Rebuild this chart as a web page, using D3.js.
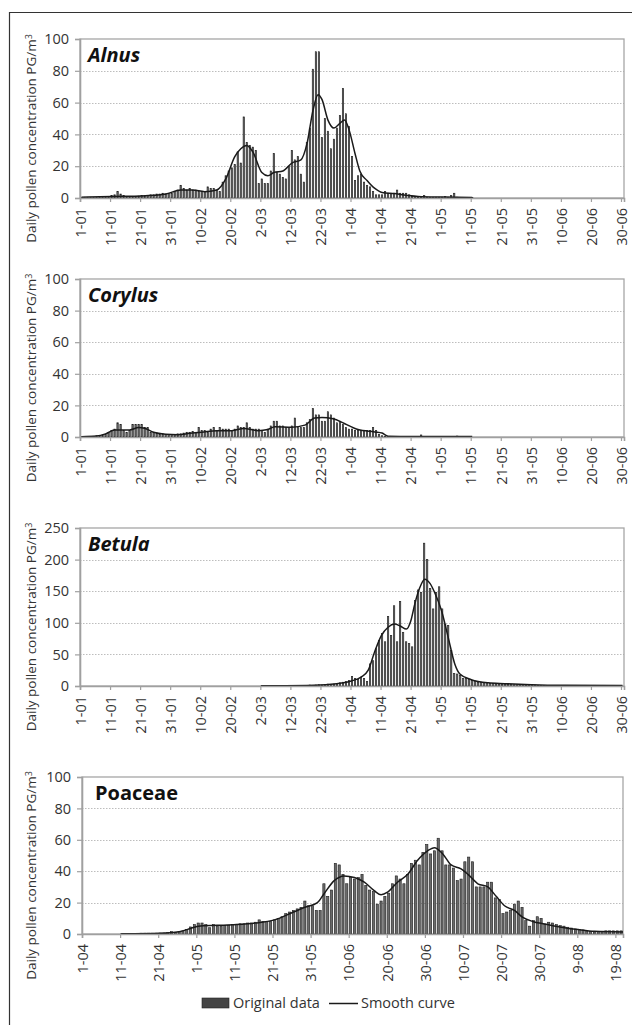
<!DOCTYPE html>
<html>
<head>
<meta charset="utf-8">
<script src="https://cdn.jsdelivr.net/npm/d3@7"></script>
<style>
  body { margin: 0; background: #fff; }
  svg { display: block; font-family: "Open Sans", sans-serif; }
</style>
</head>
<body>
<div id="chart"></div>
<script>
// tick labels (one every 10 days)
var janJunTicks = ["1-01","11-01","21-01","31-01","10-02","20-02","2-03","12-03","22-03","1-04",
  "11-04","21-04","1-05","11-05","21-05","31-05","10-06","20-06","30-06"];
var aprAugTicks = ["1-04","11-04","21-04","1-05","11-05","21-05","31-05","10-06","20-06","30-06",
  "10-07","20-07","30-07","9-08","19-08"];

// daily values, first value is day alnusStart (day 0 = 1-01)
var alnusStart = 0;
var alnusValues = [0.5,0.5,0.5,0.5,0.3,0.5,0.5,0.8,0.5,0.8, 1.5,2,4,2.5,1.5,1,1,1,1,1.2,
  1.5,1.2,1.5,2,2,2.5,2.5,3,2.5,3, 3,4,5,
  8,6,5,6,5,5,4,4,4,7,6,6,5,4,
  10,14,17,19,21,29,22,51,35,33,32,30,
  9,12,9,9,17,28,16,15,13,12,20,30,24,26,15,10,35,44,
  81,92,92,38,50,42,31,37,44,52,69,53,45,
  26,11,14,15,10,8,7,4,2,2,2,4,3,3,3,5,3,3,3,2,1,
  1,0.5,0.5,1.5,0.5,0.5,0.5,0.5,0.5,0.5,1,0.5,1.5,3,0.5,0.3,0.3,0.3,0.3,0.3];
var alnusCurve = [[0,0.5],[10,1],[20,1.3],[28,2.5],[33,5],[37,5],[41,4],[45,5],[48,12],[51,26],
  [53,31],[55,33],[57,29],[60,16],[62,14],[64,16],[67,17],[70,22],[73,24],[75,34],[77,55],
  [78.7,65],[80,62],[82,49],[84,44],[86,47],[87.5,49],[89,43],[91,28],[92.6,17],[95,11],
  [97.6,6],[100,3.5],[104,2.8],[108,1.8],[112,1],[120,0.6],[130,0.3]];

var corylusStart = 0;
var corylusValues = [0.2,0.2,0.3,0.3,0.5,0.8,1,1.2,
  1.5,3,4,5,9,8,4,3,4,8,8,8,8,6,6,3,3,
  2.5,2,2,1.5,1.5,1.5,1.5,2,2,2.5,3,3,3.5,3,
  6,4,4,3,5,6,4,6,5,5,5,4,5,7,6,6,9,6,5,5,5,4,3,5,
  7,10,10,7,7,6,6,7,12,6,6,6,9,11,18,
  14,14,10,10,16,14,12,9,10,8,6,5,5,4,4,4,4,4,4,6,4,1.5,
  0.8,0.3,0.3,0.3,0.3,0.3,0.3,0.3,0.3,0.3,0.3,0.3,0.3,1.3,0.3,0.3,0.3,0.3,0.3,0.3,0.3,
  0.3,0.3,0.3,0.3,0.6,0.3,0.3,0.3,0.3];
var corylusCurve = [[0,0.2],[5,0.6],[8,2],[11,4.5],[14,4.5],[16,4.5],[19,6],[21,5.5],[24,3],
  [28,1.8],[32,1.5],[36,2.3],[40,3],[45,4],[50,4],[54,5.4],[58.8,4],[62,4.7],[64.3,6.5],
  [70,6.2],[74.3,7.5],[77.6,12],[80,12.3],[83.7,11.6],[87.6,8.4],[92,4.7],[97.6,3.2],
  [100,2.5],[102,0.5],[110,0.3],[130,0.3]];

var betulaStart = 60;
var betulaValues = [0.5,0.5,0.5,0.5,0.5,0.5,1,0.5,0.5,1,0.5,1,1,1,0.5,1,1.5,1,1.5,2,1.5,2,3,2,
  3,4,5,6,7,9,15,12,10,14,12,7,
  35,40,59,72,83,70,110,80,127,70,134,85,70,67,62,
  135,152,148,226,200,154,122,148,157,122,98,96,56,
  20,19,17,12,12,10,9,8,6,6,5,5,4,4,3,3,3,
  3,2.5,2.5,2,2,2,2,1.5,1.5,1.5,1.5,1,1,1,1,1,1,1,0.8,0.8,0.8,0.8,
  0.5,0.5,0.5,0.5,0.5,0.5,0.5,0.5,0.5,0.5,0.5,0.5,0.5,0.5,0.5,0.5,0.5];
var betulaCurve = [[60,0.3],[75,0.8],[83,2.6],[86.5,4.7],[89.8,8],[93,14],[95.4,25],[97.6,55],
  [99.8,80],[102,93],[104.2,98],[106,95],[108.1,90],[109.5,102],[110.9,130],[112.5,155],
  [114.2,169],[116,162],[117.5,148],[119.8,119],[122,77],[124.2,35],[125.9,19],[129.7,10],
  [135.3,5],[140.8,3.7],[149.7,2],[160.8,1],[180,0.6]];

// day 0 = 1-04
var poaceaeStart = 10;
var poaceaeValues = [0.3,0.3,0.3,0.4,0.4,0.5,0.5,0.5,0.5,0.5,0.6,0.6,0.8,
  1.5,1,1.5,2,3,4.5,6,7,7,6,4,6,5,5,5.5,5.5,6,6,6.5,6.5,7,7,7.5,9,8,8,8,9,10,11,
  13,14,15,16,17,21,18,18,15,15,
  32,24,28,45,44,38,32,36,35,36,38,31,28,27,19,21,24,26,32,37,
  35,32,38,45,47,44,52,57,51,53,61,53,44,44,42,34,35,46,49,46,
  30,30,30,33,33,23,22,13,14,15,19,21,17,8.5,5,8.5,11,10,6.4,7.5,
  7,6,5.3,5,4.3,3.8,3.2,3,2.6,2,1.7,1.3,1.5,1.7,2,2,2,2,2];
var poaceaeCurve = [[10,0.2],[20,0.5],[25,1.5],[28,3.5],[30,5],[35,5.5],[40,6],[45,7],[50,9],
  [55,14],[58,17],[61.3,20],[63,25.5],[65.7,34],[68.3,37],[71,36],[73.6,33],[76.2,27.6],
  [78,25],[79.7,26.6],[82.3,33],[85,38],[87.6,47],[90.2,53],[92,55],[94.2,51],[96.4,44],
  [99,41.5],[100.8,38],[103.4,32],[106,30],[108.2,24],[110.4,18],[113,15],[115.2,10.6],
  [117.8,8],[120.9,6.4],[125.3,4.3],[129.7,2.8],[134,1.7],[141.5,1.3]];

var panels = [
  { name: "Alnus", italic: true, top: 39, bottom: 198, left: 80, right: 624, nameX: 88,
    yMax: 100, yStep: 20, days: 181, ticks: janJunTicks, start: alnusStart, values: alnusValues, curve: alnusCurve },
  { name: "Corylus", italic: true, top: 279, bottom: 437, left: 80, right: 624, nameX: 88,
    yMax: 100, yStep: 20, days: 181, ticks: janJunTicks, start: corylusStart, values: corylusValues, curve: corylusCurve },
  { name: "Betula", italic: true, top: 528, bottom: 686, left: 80, right: 624, nameX: 88,
    yMax: 250, yStep: 50, days: 181, ticks: janJunTicks, start: betulaStart, values: betulaValues, curve: betulaCurve },
  { name: "Poaceae", italic: false, top: 777, bottom: 934, left: 82, right: 623, nameX: 95,
    yMax: 100, yStep: 20, days: 142, ticks: aprAugTicks, start: poaceaeStart, values: poaceaeValues, curve: poaceaeCurve }
];

var svg = d3.select("#chart").append("svg")
  .attr("width", 632)
  .attr("height", 1025);

// outer frame (right and bottom fall outside the picture)
svg.append("path")
  .attr("d", "M9.5,1030V12.5H640")
  .attr("fill", "none")
  .attr("stroke", "#333")
  .attr("stroke-width", 1.2);

panels.forEach(function(p) {
  var g = svg.append("g");
  var x = d3.scaleLinear().domain([0, p.days]).range([p.left, p.right]);
  var y = d3.scaleLinear().domain([0, p.yMax]).range([p.bottom, p.top]);
  var yTicks = d3.range(0, p.yMax + 1, p.yStep);
  var step = x(1) - x(0);

  // dotted gridlines
  g.selectAll(".grid")
    .data(yTicks.filter(function(d) { return d > 0 && d < p.yMax; }))
    .enter().append("line")
    .attr("x1", p.left).attr("x2", p.right)
    .attr("y1", function(d) { return Math.round(y(d)) + 0.5; })
    .attr("y2", function(d) { return Math.round(y(d)) + 0.5; })
    .attr("stroke", "#bdbdbd")
    .attr("stroke-dasharray", "1.5,1.5");

  // plot border
  g.append("rect")
    .attr("x", p.left).attr("y", p.top)
    .attr("width", p.right - p.left).attr("height", p.bottom - p.top)
    .attr("fill", "none")
    .attr("stroke", "#a6a6a6")
    .attr("stroke-width", 1.3);

  // bars
  g.selectAll(".bar")
    .data(p.values.map(function(v, i) { return { day: p.start + i, v: v }; })
      .filter(function(d) { return d.day < p.days; }))
    .enter().append("rect")
    .attr("class", "bar")
    .attr("x", function(d) { return x(d.day) + 0.8; })
    .attr("width", step - 1.6)
    .attr("y", function(d) { return y(d.v); })
    .attr("height", function(d) { return y(0) - y(d.v); })
    .attr("fill", "#6a6a6a")
    .attr("stroke", "#1c1c1c")
    .attr("stroke-width", 0.6);

  // smooth curve
  var line = d3.line()
    .x(function(d) { return x(d[0] + 0.5); })
    .y(function(d) { return y(d[1]); })
    .curve(d3.curveMonotoneX);
  g.append("path")
    .attr("d", line(p.curve))
    .attr("fill", "none")
    .attr("stroke", "#1a1a1a")
    .attr("stroke-width", 1.5);

  // y axis
  var yAxis = g.append("g")
    .attr("transform", "translate(" + p.left + ",0)")
    .call(d3.axisLeft(y).tickValues(yTicks).tickSize(5).tickPadding(6));
  yAxis.select(".domain").attr("stroke", "#a0a0a0").attr("stroke-width", 1.6);
  yAxis.selectAll(".tick line").attr("stroke", "#a0a0a0").attr("stroke-width", 1.2);
  yAxis.selectAll("text").attr("font-size", 14.5).attr("fill", "#333")
    .attr("font-family", "Open Sans");

  // x axis
  var xAxis = g.append("g")
    .attr("transform", "translate(0," + p.bottom + ")")
    .call(d3.axisBottom(x)
      .tickValues(p.ticks.map(function(t, i) { return i * 10; }))
      .tickFormat(function(d, i) { return p.ticks[i]; })
      .tickSize(4));
  xAxis.select(".domain").attr("stroke", "#a0a0a0").attr("stroke-width", 1.6);
  xAxis.selectAll(".tick line").attr("stroke", "#a0a0a0").attr("stroke-width", 1.2);
  xAxis.selectAll("text")
    .attr("transform", "rotate(-90)")
    .attr("text-anchor", "end")
    .attr("x", -10)
    .attr("y", 0)
    .attr("dy", "0.36em")
    .attr("font-size", 14.5)
    .attr("fill", "#333")
    .attr("font-family", "Open Sans");

  // axis title
  var cy = (p.top + p.bottom) / 2 + 20;
  var title = g.append("text")
    .attr("transform", "translate(36," + cy + ") rotate(-90)")
    .attr("text-anchor", "middle")
    .attr("font-size", 13.5)
    .attr("fill", "#333");
  title.append("tspan").text("Daily pollen concentration PG/m");
  title.append("tspan").attr("dy", "-0.45em").attr("font-size", 9).text("3");

  // species name
  g.append("text")
    .attr("x", p.nameX)
    .attr("y", p.top + 23)
    .attr("font-size", 20)
    .attr("font-weight", "bold")
    .attr("font-style", p.italic ? "italic" : "normal")
    .attr("fill", "#111")
    .text(p.name);
});

// legend
var legend = svg.append("g").attr("font-size", 14.5).attr("fill", "#333");
legend.append("rect")
  .attr("x", 202).attr("y", 998).attr("width", 27).attr("height", 10)
  .attr("fill", "#444").attr("stroke", "#222").attr("stroke-width", 0.6);
legend.append("text").attr("x", 233).attr("y", 1008).text("Original data");
legend.append("line")
  .attr("x1", 329).attr("x2", 358).attr("y1", 1003.5).attr("y2", 1003.5)
  .attr("stroke", "#1a1a1a").attr("stroke-width", 1.5);
legend.append("text").attr("x", 361).attr("y", 1008).text("Smooth curve");
</script>
</body>
</html>
